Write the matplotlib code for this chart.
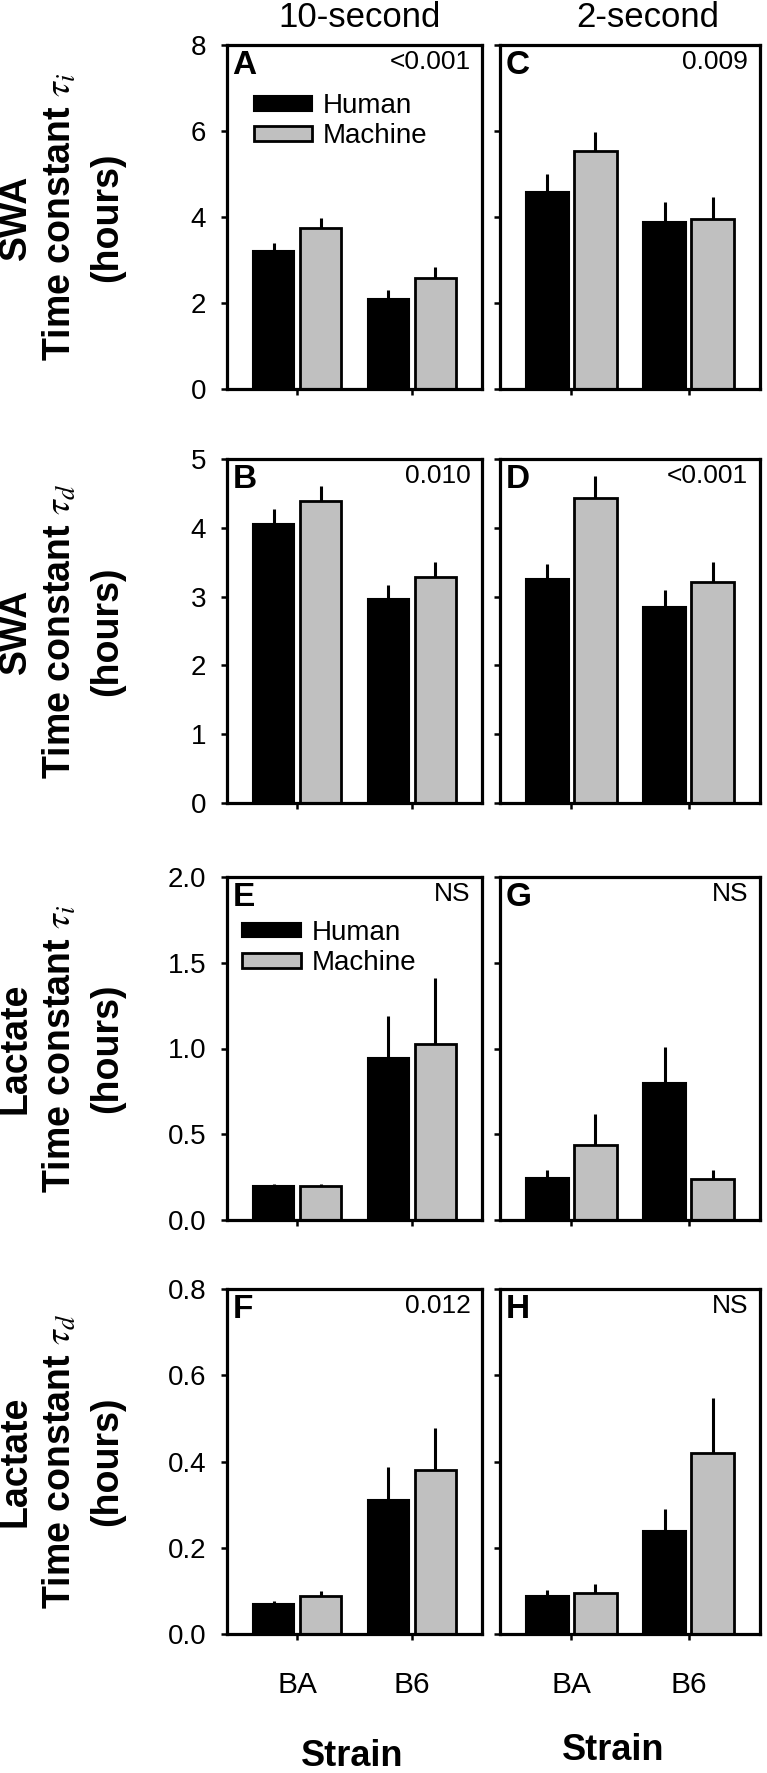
import numpy as np
import matplotlib
matplotlib.use('Agg')
import matplotlib.pyplot as plt

plt.rcParams['font.family'] = ['Liberation Sans', 'DejaVu Sans']
plt.rcParams['mathtext.fontset'] = 'stix'

# data (hours)
strains = ['BA', 'B6']
series = ['Human', 'Machine']

swa_ti_10_human = [3.22, 2.09]
swa_ti_10_human_err = [0.18, 0.21]
swa_ti_10_machine = [3.75, 2.58]
swa_ti_10_machine_err = [0.22, 0.26]
swa_ti_2_human = [4.59, 3.89]
swa_ti_2_human_err = [0.42, 0.47]
swa_ti_2_machine = [5.54, 3.95]
swa_ti_2_machine_err = [0.44, 0.52]

swa_td_10_human = [4.06, 2.97]
swa_td_10_human_err = [0.22, 0.20]
swa_td_10_machine = [4.39, 3.29]
swa_td_10_machine_err = [0.22, 0.21]
swa_td_2_human = [3.26, 2.85]
swa_td_2_human_err = [0.22, 0.25]
swa_td_2_machine = [4.44, 3.21]
swa_td_2_machine_err = [0.31, 0.30]

lac_ti_10_human = [0.20, 0.945]
lac_ti_10_human_err = [0.01, 0.245]
lac_ti_10_machine = [0.20, 1.026]
lac_ti_10_machine_err = [0.01, 0.384]
lac_ti_2_human = [0.243, 0.80]
lac_ti_2_human_err = [0.05, 0.21]
lac_ti_2_machine = [0.437, 0.24]
lac_ti_2_machine_err = [0.18, 0.05]

lac_td_10_human = [0.07, 0.311]
lac_td_10_human_err = [0.007, 0.076]
lac_td_10_machine = [0.088, 0.38]
lac_td_10_machine_err = [0.012, 0.097]
lac_td_2_human = [0.088, 0.24]
lac_td_2_human_err = [0.014, 0.05]
lac_td_2_machine = [0.094, 0.419]
lac_td_2_machine_err = [0.022, 0.128]

panel_letters = ['A', 'C', 'B', 'D', 'E', 'G', 'F', 'H']
p_values = ['<0.001', '0.009', '0.010', '<0.001', 'NS', 'NS', '0.012', 'NS']
column_titles = ['10-second', '2-second']
row_labels = ['SWA', 'SWA', 'Lactate', 'Lactate']
row_sub = ['i', 'd', 'i', 'd']

W, H = 767, 1773
fig = plt.figure(figsize=(W / 100, H / 100), dpi=100)

col_px = [(227, 482), (500, 760)]
row_px = [(45, 389), (459, 803), (877, 1220), (1289, 1634)]
ylims = [(0, 8), (0, 5), (0, 2.0), (0, 0.8)]
yticks = [np.arange(0, 9, 2), np.arange(0, 6, 1), np.arange(0, 2.01, 0.5), np.arange(0, 0.81, 0.2)]
yfmt = ['{:.0f}', '{:.0f}', '{:.1f}', '{:.1f}']

data = [
    [(swa_ti_10_human, swa_ti_10_human_err, swa_ti_10_machine, swa_ti_10_machine_err),
     (swa_ti_2_human, swa_ti_2_human_err, swa_ti_2_machine, swa_ti_2_machine_err)],
    [(swa_td_10_human, swa_td_10_human_err, swa_td_10_machine, swa_td_10_machine_err),
     (swa_td_2_human, swa_td_2_human_err, swa_td_2_machine, swa_td_2_machine_err)],
    [(lac_ti_10_human, lac_ti_10_human_err, lac_ti_10_machine, lac_ti_10_machine_err),
     (lac_ti_2_human, lac_ti_2_human_err, lac_ti_2_machine, lac_ti_2_machine_err)],
    [(lac_td_10_human, lac_td_10_human_err, lac_td_10_machine, lac_td_10_machine_err),
     (lac_td_2_human, lac_td_2_human_err, lac_td_2_machine, lac_td_2_machine_err)],
]

legend_anchor = {0: (0.105, 0.86), 2: (0.06, 0.875)}

x = np.arange(len(strains))
bw = 0.36
off = 0.205
k = 0
for r in range(4):
    for c in range(2):
        x0, x1 = col_px[c]
        t, b = row_px[r]
        ax = fig.add_axes([x0 / W, 1 - b / H, (x1 - x0) / W, (b - t) / H])
        hum, hum_e, mac, mac_e = data[r][c]
        ekw = dict(ecolor='black', elinewidth=2.2, capsize=0, capthick=0)
        ax.bar(x - off, hum, bw, color='black', edgecolor='black', linewidth=1.5,
               yerr=[np.zeros(2), hum_e], error_kw=ekw, label=series[0], zorder=2)
        ax.bar(x + off, mac, bw, color='#c0c0c0', edgecolor='black', linewidth=2.0,
               yerr=[np.zeros(2), mac_e], error_kw=ekw, label=series[1], zorder=2)
        ax.set_xlim(-0.61, 1.61)
        ax.set_ylim(*ylims[r])
        ax.set_yticks(yticks[r])
        if c == 0:
            ax.set_yticklabels([yfmt[r].format(v) for v in yticks[r]], fontsize=20)
        else:
            ax.set_yticklabels([])
        ax.set_xticks(x)
        if r == 3:
            ax.set_xticklabels(strains, fontsize=21.5)
        else:
            ax.set_xticklabels([])
        ax.tick_params(axis='y', direction='out', length=4, width=1.8, pad=11)
        ax.tick_params(axis='x', direction='out', length=4.5, width=1.8, pad=22)
        for s in ax.spines.values():
            s.set_linewidth(2.3)
        ax.text(0.022, 0.985, panel_letters[k], transform=ax.transAxes, ha='left', va='top',
                fontsize=24, fontweight='bold')
        ax.text(0.955, 0.985, p_values[k], transform=ax.transAxes, ha='right', va='top',
                fontsize=19)
        if c == 0 and r in legend_anchor:
            ax.legend(loc='upper left', bbox_to_anchor=legend_anchor[r], frameon=False,
                      fontsize=20, handlelength=2.1, handleheight=0.45, handletextpad=0.4,
                      labelspacing=0.15, borderpad=0, borderaxespad=0)
        k += 1

# column titles
fig.text(360 / W, 1 - 27 / H, column_titles[0], ha='center', va='baseline', fontsize=25)
fig.text(648 / W, 1 - 27 / H, column_titles[1], ha='center', va='baseline', fontsize=25)

# row labels
for r in range(4):
    t, b = row_px[r]
    yc = 1 - (t + b) / 2 / H
    fig.text(16 / W, yc, row_labels[r], rotation=90, ha='center', va='center',
             fontsize=27, fontweight='bold')
    fig.text(60 / W, yc, 'Time constant $\\tau_' + row_sub[r] + '$', rotation=90,
             ha='center', va='center', fontsize=27, fontweight='bold')
    fig.text(107 / W, yc, '(hours)', rotation=90, ha='center', va='center',
             fontsize=27, fontweight='bold')

# x axis labels
fig.text(352 / W, 1 - 1766 / H, 'Strain', ha='center', va='baseline', fontsize=26, fontweight='bold')
fig.text(613 / W, 1 - 1760 / H, 'Strain', ha='center', va='baseline', fontsize=26, fontweight='bold')

fig.savefig('out.png', dpi=100)
